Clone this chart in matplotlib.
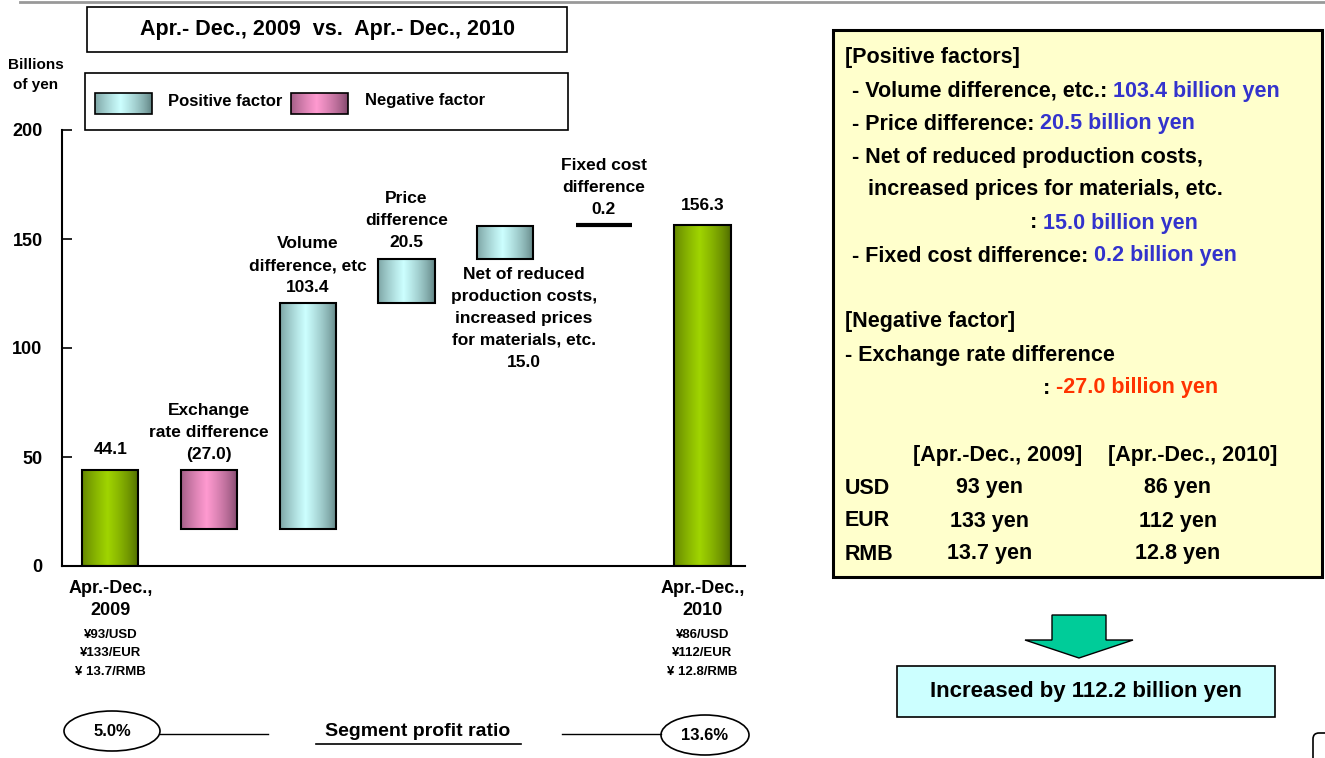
import numpy as np
import matplotlib
matplotlib.use("Agg")
import matplotlib.pyplot as plt
from matplotlib.colors import LinearSegmentedColormap
from matplotlib.patches import Rectangle, Ellipse, Polygon, FancyBboxPatch

plt.rcParams['font.family'] = ['Liberation Sans', 'DejaVu Sans']

# data
steps = ["Apr.-Dec.,\n2009", "Exchange\nrate difference\n(27.0)", "Volume\ndifference, etc\n103.4",
         "Price\ndifference\n20.5", "Net of reduced\nproduction costs,\nincreased prices\nfor materials, etc.\n15.0",
         "Fixed cost\ndifference\n0.2", "Apr.-Dec.,\n2010"]
deltas = [44.1, -27.0, 103.4, 20.5, 15.0, 0.2, 156.3]
kinds = ["total", "neg", "pos", "pos", "pos", "pos", "total"]
rates_2009 = ["¥93/USD", "¥133/EUR", "¥ 13.7/RMB"]
rates_2010 = ["¥86/USD", "¥112/EUR", "¥ 12.8/RMB"]
ratio_2009 = "5.0%"
ratio_2010 = "13.6%"

# waterfall bottoms/tops
bottoms, tops = [], []
run = 0.0
for d, k in zip(deltas, kinds):
    if k == "total":
        bottoms.append(0.0); tops.append(d); run = d
    else:
        nxt = run + d
        bottoms.append(min(run, nxt)); tops.append(max(run, nxt)); run = nxt

W, H = 1325, 758
fig = plt.figure(figsize=(W / 100, H / 100), dpi=100)
ax = fig.add_axes([62 / W, 1 - 566 / H, 683 / W, 436 / H])

cols = {"total": ("#4a6400", "#a0d400"), "neg": ("#7a4466", "#ff9ad0"), "pos": ("#5a7c7c", "#ccffff")}

def grad_cmap(kind):
    dark, light = cols[kind]
    return LinearSegmentedColormap.from_list(kind, [dark, light], N=256)

t = np.linspace(0, 1, 200)
g = np.clip(1 - np.abs((t - 0.45) / 0.55), 0, 1) ** 0.7
grad = g[np.newaxis, :]

bw = 0.57
x = np.arange(len(deltas))
for i, (b, tp, k) in enumerate(zip(bottoms, tops, kinds)):
    if i == 5:
        ax.plot([x[i] - bw / 2, x[i] + bw / 2], [tp, tp], color="black", lw=3, solid_capstyle="butt")
        continue
    ax.imshow(grad, cmap=grad_cmap(k), vmin=0, vmax=1, aspect="auto",
              extent=(x[i] - bw / 2, x[i] + bw / 2, b, tp), zorder=2)
    ax.bar(x[i], tp - b, bottom=b, width=bw, facecolor="none", edgecolor="black", lw=1.5, zorder=3)

lab_kw = dict(ha="center", fontsize=12.5, fontweight="bold", linespacing=1.58, textcoords="offset points")
for i in range(len(deltas)):
    if i in (0, 6):
        ax.annotate(f"{deltas[i]:.1f}", (x[i], tops[i]), xytext=(0, 9), va="bottom", **lab_kw)
    elif i == 4:
        ax.annotate(steps[i], (x[i] + 0.19, bottoms[i]), xytext=(0, -6), va="top", **lab_kw)
    else:
        ax.annotate(steps[i], (x[i], tops[i]), xytext=(0, 6), va="bottom", **lab_kw)

ax.set_xlim(-0.49, 6.43)
ax.set_ylim(0, 200)
ax.spines[["top", "right"]].set_visible(False)
ax.spines["left"].set_linewidth(1.5)
ax.spines["bottom"].set_linewidth(1.5)
ax.set_yticks([0, 50, 100, 150, 200])
ax.tick_params(axis="y", direction="in", length=7, width=1.2, pad=14, labelsize=13)
for tl in ax.get_yticklabels():
    tl.set_fontweight("bold")
ax.set_xticks([])
ax.patch.set_visible(False)

for i, rates in ((0, rates_2009), (6, rates_2010)):
    ax.annotate(steps[i], (x[i], 0), xytext=(0, -10), textcoords="offset points", ha="center", va="top",
                fontsize=13, fontweight="bold", linespacing=1.4, annotation_clip=False)
    ax.annotate("\n".join(rates), (x[i], 0), xytext=(0, -45), textcoords="offset points", ha="center",
                va="top", fontsize=9.5, fontweight="bold", linespacing=1.75, annotation_clip=False)

# overlay in pixel coordinates
ov = fig.add_axes([0, 0, 1, 1], zorder=5)
ov.set_xlim(0, W)
ov.set_ylim(H, 0)
ov.set_axis_off()
ov.patch.set_visible(False)

ov.plot([20, W], [1.5, 1.5], color="#999999", lw=2)
ov.add_patch(Rectangle((87, 7), 480, 45, fc="white", ec="black", lw=1.2))
ov.text(327, 30, "Apr.- Dec., 2009  vs.  Apr.- Dec., 2010", ha="center", va="center", fontsize=15.5, fontweight="bold")
ov.text(36, 75, "Billions\nof yen", ha="center", va="center", fontsize=11, fontweight="bold", linespacing=1.55)

# legend box
ov.add_patch(Rectangle((85, 73), 483, 57, fc="white", ec="black", lw=1.2))
for x0, k, lbl, tx in ((95, "pos", "Positive factor", 168), (291, "neg", "Negative factor", 365)):
    ov.imshow(grad, cmap=grad_cmap(k), vmin=0, vmax=1, aspect="auto", extent=(x0, x0 + 57, 114, 93), zorder=3)
    ov.add_patch(Rectangle((x0, 93), 57, 21, fc="none", ec="black", lw=1.2, zorder=4))
    ov.text(tx, 101, lbl, ha="left", va="center", fontsize=12, fontweight="bold")

# bottom ratio row
ov.add_patch(Ellipse((112, 731), 96, 40, fc="white", ec="black", lw=1.2))
ov.text(112, 731, ratio_2009, ha="center", va="center", fontsize=12, fontweight="bold")
ov.plot([160, 268], [734, 734], color="black", lw=1)
ov.text(418, 731, "Segment profit ratio", ha="center", va="center", fontsize=14, fontweight="bold")
ov.plot([316, 521], [744, 744], color="black", lw=1.2)
ov.plot([562, 661], [734, 734], color="black", lw=1)
ov.add_patch(Ellipse((705, 735), 88, 40, fc="white", ec="black", lw=1.2))
ov.text(705, 735, ratio_2010, ha="center", va="center", fontsize=12, fontweight="bold")

# right info panel
ov.add_patch(Rectangle((833, 30), 489, 547, fc="#ffffcc", ec="black", lw=2.2))
blue, red = "#3333cc", "#ff3300"
pk = dict(fontsize=15.5, fontweight="bold", va="center", ha="left")

def line(xp, yp, black, colored=None, color=blue):
    t1 = ov.text(xp, yp, black, **pk)
    if colored:
        ov.annotate(colored, xy=(1, 0), xycoords=t1, va="bottom", ha="left",
                    fontsize=15.5, fontweight="bold", color=color)

line(845, 58, "[Positive factors]")
line(846, 91, " - Volume difference, etc.: ", "103.4 billion yen")
line(846, 124, " - Price difference: ", "20.5 billion yen")
line(846, 157, " - Net of reduced production costs,")
line(868, 190, "increased prices for materials, etc.")
line(1030, 223, ": ", "15.0 billion yen")
line(846, 256, " - Fixed cost difference: ", "0.2 billion yen")
line(845, 322, "[Negative factor]")
line(845, 355, "- Exchange rate difference")
line(1043, 388, ": ", "-27.0 billion yen", color=red)

currencies = ["USD", "EUR", "RMB"]
vals_2009 = ["93 yen", "133 yen", "13.7 yen"]
vals_2010 = ["86 yen", "112 yen", "12.8 yen"]
ov.text(998, 455, "[Apr.-Dec., 2009]", ha="center", va="center", fontsize=15.5, fontweight="bold")
ov.text(1193, 455, "[Apr.-Dec., 2010]", ha="center", va="center", fontsize=15.5, fontweight="bold")
for j, (c, a, b) in enumerate(zip(currencies, vals_2009, vals_2010)):
    yy = 488 + 33 * j
    ov.text(845, yy, c, ha="left", va="center", fontsize=15.5, fontweight="bold")
    ov.text(990, yy, a, ha="center", va="center", fontsize=15.5, fontweight="bold")
    ov.text(1178, yy, b, ha="center", va="center", fontsize=15.5, fontweight="bold")

# arrow and result box
ov.add_patch(Polygon([(1052, 615), (1106, 615), (1106, 640), (1133, 640), (1079, 658), (1025, 640), (1052, 640)],
                     closed=True, fc="#00cc99", ec="black", lw=1))
ov.add_patch(Rectangle((897, 666), 378, 51, fc="#ccffff", ec="black", lw=1.2))
ov.text(1086, 692, "Increased by 112.2 billion yen", ha="center", va="center", fontsize=16, fontweight="bold")

# partial shape at bottom-right edge
ov.add_patch(FancyBboxPatch((1313, 733), 40, 40, boxstyle="round,pad=0,rounding_size=6",
                            fc="white", ec="black", lw=1.2))

fig.savefig("out.png", dpi=100)
